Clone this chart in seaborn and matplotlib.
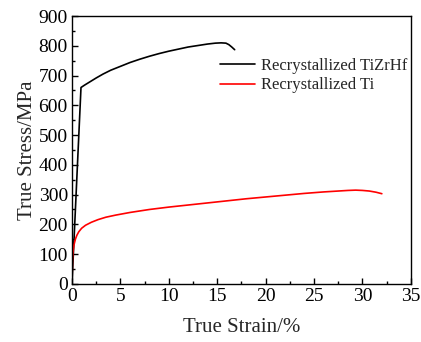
import pandas as pd
import seaborn as sns
from matplotlib import pyplot as plt
from matplotlib.ticker import MultipleLocator

tizrhf_strain = [0, 0.93, 1.3, 1.8, 2.5, 3.2, 4, 5, 6, 7, 8, 9, 10, 11, 12, 13, 14, 14.8,
                 15.4, 15.9, 16.2, 16.5, 16.8]
tizrhf_stress = [0, 660, 668, 678, 692, 705, 718, 731, 744, 755, 765, 774, 782, 789, 796, 801, 806, 809,
                 810, 809, 804, 796, 787]
ti_strain = [0, 0.05, 0.1, 0.2, 0.35, 0.5, 0.7, 1.0, 1.4, 2, 2.7, 3.5, 4.5, 6, 8, 10, 12, 14, 16, 18,
             20, 22, 24, 26, 27.5, 28.5, 29.3, 30, 30.7, 31.4, 32]
ti_stress = [0, 80, 105, 130, 150, 163, 175, 187, 197, 207, 216, 224, 231, 240, 250, 258, 265, 272, 279, 286,
             292, 298, 304, 309, 312, 314, 315, 314, 312, 308, 303]
labels = ['Recrystallized TiZrHf', 'Recrystallized Ti']

df = pd.concat([
    pd.DataFrame({'strain': tizrhf_strain, 'stress': tizrhf_stress, 'alloy': labels[0]}),
    pd.DataFrame({'strain': ti_strain, 'stress': ti_stress, 'alloy': labels[1]}),
])

sns.set_style('ticks')
plt.rcParams['font.family'] = ['Liberation Serif', 'DejaVu Serif']

fig = plt.figure(figsize=(4.21, 3.42), dpi=100)
ax = fig.add_axes([0.171, 0.170, 0.805, 0.783])
sns.lineplot(data=df, x='strain', y='stress', hue='alloy', sort=False,
             palette={labels[0]: 'black', labels[1]: 'red'}, linewidth=1.2, ax=ax)

ax.set_xlim(0, 35)
ax.set_ylim(0, 900)
ax.xaxis.set_major_locator(MultipleLocator(5))
ax.xaxis.set_minor_locator(MultipleLocator(2.5))
ax.yaxis.set_major_locator(MultipleLocator(100))
ax.yaxis.set_minor_locator(MultipleLocator(50))
ax.tick_params(which='both', direction='in', labelsize=14, width=1, color='black', labelcolor='black')
ax.tick_params(which='major', length=4, pad=3)
ax.tick_params(which='minor', length=2.5)
for s in ax.spines.values():
    s.set_linewidth(1)
    s.set_color('black')

ax.set_xlabel('True Strain/%', fontsize=15, labelpad=9)
ax.set_ylabel('True Stress/MPa', fontsize=15, labelpad=1)

ax.legend(frameon=False, fontsize=12, loc='upper left', bbox_to_anchor=(0.417, 0.868),
          handlelength=2.1, handletextpad=0.35, labelspacing=0.2, borderaxespad=0)

fig.savefig('out.png', dpi=100)
